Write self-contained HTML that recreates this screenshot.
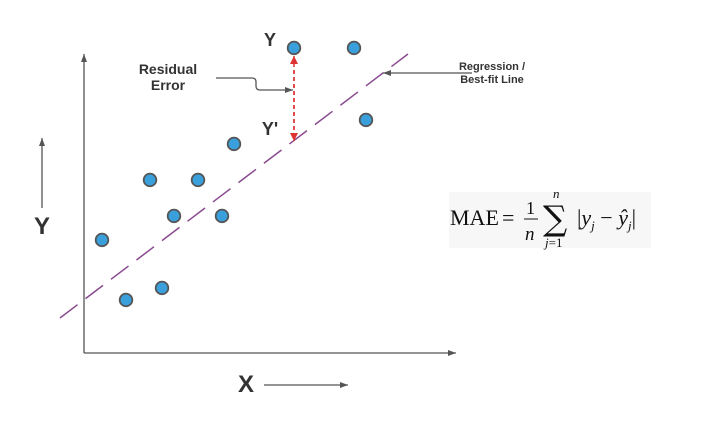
<!DOCTYPE html>
<html><head><meta charset="utf-8"><style>
body{margin:0;background:#fff;width:708px;height:428px;overflow:hidden;font-family:"Liberation Sans",sans-serif}
svg{position:absolute;left:0;top:0}
.f{font-family:"Liberation Serif",serif;fill:#111}
</style></head><body>
<svg width="708" height="428">
<defs>
<marker id="ag" markerWidth="8" markerHeight="6" refX="8" refY="3" orient="auto" markerUnits="userSpaceOnUse"><path d="M0,0L8,3L0,6z" fill="#555"/></marker>
<marker id="ar" markerWidth="8" markerHeight="8" refX="8" refY="4" orient="auto" markerUnits="userSpaceOnUse"><path d="M0,0L8,4L0,8z" fill="#d33"/></marker>
</defs>
<line x1="84" y1="353" x2="84" y2="54" stroke="#555" stroke-width="1.3" marker-end="url(#ag)"/>
<line x1="84" y1="353" x2="456" y2="353" stroke="#555" stroke-width="1.3" marker-end="url(#ag)"/>
<line x1="42" y1="208" x2="42" y2="138" stroke="#555" stroke-width="1.3" marker-end="url(#ag)"/>
<text x="42" y="234" font-size="24" font-weight="bold" fill="#333" text-anchor="middle">Y</text>
<text x="246" y="392" font-size="24" font-weight="bold" fill="#333" text-anchor="middle">X</text>
<line x1="264" y1="385" x2="348" y2="385" stroke="#555" stroke-width="1.3" marker-end="url(#ag)"/>
<line x1="60" y1="318" x2="408" y2="54" stroke="#8a4a8f" stroke-width="1.5" stroke-dasharray="22,10"/>
<line x1="472" y1="73" x2="383" y2="73" stroke="#555" stroke-width="1.3" marker-end="url(#ag)"/>
<text x="492" y="70" font-size="11" font-weight="bold" fill="#333" text-anchor="middle">Regression /</text>
<text x="492" y="83" font-size="11" font-weight="bold" fill="#333" text-anchor="middle">Best-fit Line</text>
<line x1="294" y1="130" x2="294" y2="56" stroke="#d33" stroke-width="1.5" stroke-dasharray="4,3" marker-end="url(#ar)"/>
<line x1="294" y1="70" x2="294" y2="141" stroke="#d33" stroke-width="1.5" stroke-dasharray="4,3" marker-end="url(#ar)"/>
<path d="M216,78H252Q256,78 256,82V86Q256,90 260,90H293" fill="none" stroke="#555" stroke-width="1.3" marker-end="url(#ag)"/>
<text x="168" y="74" font-size="14" font-weight="bold" fill="#333" text-anchor="middle">Residual</text>
<text x="168" y="90" font-size="14" font-weight="bold" fill="#333" text-anchor="middle">Error</text>
<text x="270" y="46" font-size="18" font-weight="bold" fill="#333" text-anchor="middle">Y</text>
<text x="270" y="135" font-size="18" font-weight="bold" fill="#333" text-anchor="middle">Y'</text>
<g id="pts"></g>
<rect x="449" y="192" width="202" height="56" fill="#f7f7f7"/>
<g>
<text class="f" x="450" y="225" font-size="22">MAE</text>
<text class="f" x="502" y="225" font-size="22">=</text>
<text class="f" x="526" y="214" font-size="18">1</text>
<line x1="524" y1="219" x2="538" y2="219" stroke="#111" stroke-width="1"/>
<text class="f" x="525" y="240" font-size="19" font-style="italic">n</text>
<text x="543" y="230" font-size="34" font-family="'DejaVu Serif',serif" fill="#111">∑</text>
<text class="f" x="553" y="198" font-size="13" font-style="italic">n</text>
<text class="f" x="545" y="247" font-size="13"><tspan font-style="italic">j</tspan>=1</text>
<text class="f" x="577" y="225" font-size="22">|<tspan font-style="italic">y</tspan><tspan font-size="13" font-style="italic" dy="5">j</tspan><tspan dy="-5"> − </tspan><tspan font-style="italic">ŷ</tspan><tspan font-size="13" font-style="italic" dy="5">j</tspan><tspan dy="-5">|</tspan></text>
</g>
</svg>
<script>
const xVals=[1.5,3.5,6.5,5.5,7.5,9.5,11.5,12.5,17.5,22.5,23.5];
const yVals=[9.42,4.42,5.42,14.42,11.42,14.42,11.42,17.42,25.42,25.42,19.42];
const sx=v=>84+12*v, sy=v=>353-12*v;
const g=document.getElementById('pts');
xVals.forEach((x,i)=>{
 const c=document.createElementNS('http://www.w3.org/2000/svg','circle');
 c.setAttribute('cx',sx(x));c.setAttribute('cy',sy(yVals[i]));c.setAttribute('r',6.3);
 c.setAttribute('fill','#3aa0dc');c.setAttribute('stroke','#555');c.setAttribute('stroke-width','1.8');
 
 
 g.appendChild(c);
});
</script>
</body></html>
